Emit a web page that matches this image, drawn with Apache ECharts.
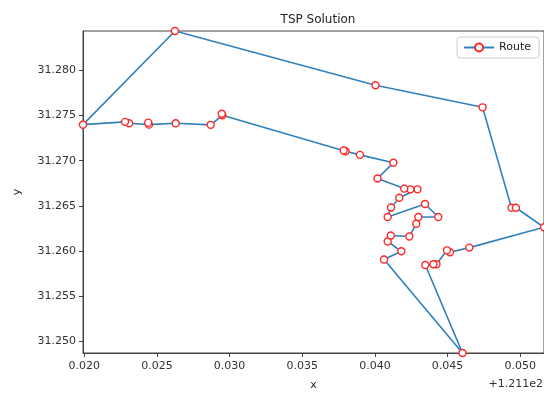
<!DOCTYPE html>
<html>
<head>
<meta charset="utf-8">
<script src="https://cdn.jsdelivr.net/npm/echarts@6/dist/echarts.min.js"></script>
<style>
html,body{margin:0;padding:0;background:#fff;}
#chart{width:544px;height:396px;}
</style>
</head>
<body>
<div id="chart"></div>
<script>
// Route order (closed loop), longitude / latitude
const routeX = [
  121.11991, 121.12624, 121.14004, 121.14741, 121.14940, 121.14971, 121.15164,
  121.14650, 121.14517, 121.14496, 121.14424, 121.14403, 121.14347, 121.14603,
  121.14063, 121.14182, 121.14088, 121.14109, 121.14237, 121.14285, 121.14299,
  121.14436, 121.14345, 121.14088, 121.14111, 121.14168, 121.14293, 121.14244,
  121.14202, 121.14018, 121.14127, 121.13897, 121.13798, 121.13785, 121.12950,
  121.12946, 121.12870, 121.12629, 121.12445, 121.12440, 121.12308, 121.12280,
  121.11991
];
const routeY = [
  31.27399, 31.28437, 31.27836, 31.27591, 31.26478, 31.26478, 31.26262,
  31.26036, 31.25984, 31.26006, 31.25852, 31.25852, 31.25844, 31.24868,
  31.25904, 31.25995, 31.26104, 31.26170, 31.26159, 31.26300, 31.26375,
  31.26375, 31.26520, 31.26375, 31.26481, 31.26588, 31.26682, 31.26682,
  31.26690, 31.26802, 31.26976, 31.27064, 31.27104, 31.27113, 31.27503,
  31.27520, 31.27397, 31.27415, 31.27399, 31.27421, 31.27415, 31.27430,
  31.27399
];
const xTicks = [121.120, 121.125, 121.130, 121.135, 121.140, 121.145, 121.150];
const yTicks = [31.250, 31.255, 31.260, 31.265, 31.270, 31.275, 31.280];
const xOffset = 121.1;
const xOffsetLabel = '+1.211e2';
const titleText = 'TSP Solution';
const seriesName = 'Route';

const xMin = Math.min(...routeX), xMax = Math.max(...routeX);
const yMin = Math.min(...routeY), yMax = Math.max(...routeY);

const chart = echarts.init(document.getElementById('chart'), null, {renderer: 'canvas'});
const font = 'DejaVu Sans';
const axisCol = '#333';
chart.setOption({
  animation: false,
  backgroundColor: '#fff',
  textStyle: {fontFamily: font},
  title: {
    text: titleText, left: 313, top: 9, textAlign: 'center',
    textStyle: {fontFamily: font, fontSize: 12, fontWeight: 'normal', color: '#222'}
  },
  grid: {left: 83, right: 0, top: 31, bottom: 40, show: true, borderColor: '#444', borderWidth: 1, backgroundColor: 'transparent'},
  legend: {
    data: [seriesName], right: 5, top: 37,
    itemWidth: 30, itemHeight: 10, itemGap: 8, padding: [5, 8, 5, 6],
    backgroundColor: '#fff', borderColor: '#ccc', borderWidth: 1, borderRadius: 3,
    textStyle: {fontFamily: font, fontSize: 11, color: '#222'}
  },
  xAxis: {
    type: 'value', min: xMin, max: xMax, scale: true,
    name: 'x', nameLocation: 'middle', nameGap: 27,
    nameTextStyle: {fontFamily: font, fontSize: 11, color: '#222'},
    splitLine: {show: false},
    axisLine: {show: true, onZero: false, lineStyle: {color: '#444', width: 1}},
    axisTick: {show: true, length: 4, customValues: xTicks, lineStyle: {color: '#444'}},
    axisLabel: {
      customValues: xTicks, margin: 8, fontSize: 11, color: axisCol, fontFamily: font,
      formatter: v => (v - xOffset).toFixed(3)
    }
  },
  yAxis: {
    type: 'value', min: yMin, max: yMax, scale: true,
    name: 'y', nameLocation: 'middle', nameGap: 60,
    nameTextStyle: {fontFamily: font, fontSize: 11, color: '#222'},
    splitLine: {show: false},
    axisLine: {show: true, onZero: false, lineStyle: {color: '#444', width: 1}},
    axisTick: {show: true, length: 4, customValues: yTicks, lineStyle: {color: '#444'}},
    axisLabel: {
      customValues: yTicks, margin: 7, fontSize: 11, color: axisCol, fontFamily: font,
      formatter: v => v.toFixed(3)
    }
  },
  graphic: [{
    type: 'text', right: 1, top: 379,
    style: {text: xOffsetLabel, fontFamily: font, fontSize: 11, fill: axisCol}
  }],
  series: [{
    name: seriesName, type: 'line',
    data: routeX.map((x, i) => [x, routeY[i]]),
    lineStyle: {color: '#2f80bd', width: 1.6},
    symbol: 'circle', symbolSize: 7,
    itemStyle: {color: '#fff', borderColor: '#ff2626', borderWidth: 1.4},
    color: '#2f80bd',
    clip: true,
    z: 3
  }]
});
</script>
</body>
</html>
